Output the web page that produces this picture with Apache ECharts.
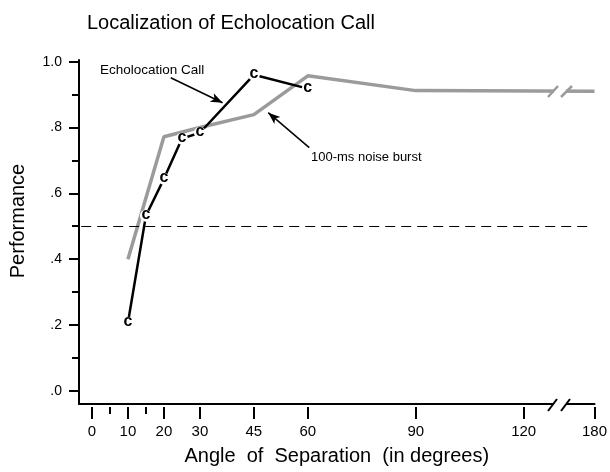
<!DOCTYPE html>
<html>
<head>
<meta charset="utf-8">
<script src="https://cdn.jsdelivr.net/npm/echarts@6/dist/echarts.min.js"></script>
<style>
html, body { margin: 0; padding: 0; background: #fff; }
#main { width: 610px; height: 472px; }
</style>
</head>
<body>
<div id="main"></div>
<script>
// angle of separation (degrees) and proportion correct
var echoAngles = [10, 15, 20, 25, 30, 45, 60];
var echoPerf = [0.207, 0.532, 0.644, 0.766, 0.784, 0.96, 0.918];
var noiseAngles = [10, 20, 30, 45, 60, 90, 180];
var noisePerf = [0.40, 0.772, 0.80, 0.839, 0.957, 0.912, 0.91];
var chanceLevel = 0.5;

var xMajor = [0, 10, 20, 30, 45, 60, 90, 120, 180];
var xMinor = [5, 15];
var yMajor = [0, 0.2, 0.4, 0.6, 0.8, 1.0];
var yMinor = [0.1, 0.3, 0.5, 0.7, 0.9];

// annotation arrows, [from, to] in axis units
var echoArrow = [[21.9, 0.951], [36.3, 0.875]];
var noiseArrow = [[60.4, 0.739], [49.0, 0.845]];

var FONT = "Liberation Sans";

// axis is broken after 120: 120..180 squeezed
function pos(deg) {
  return deg <= 120 ? deg : 120 + (deg - 120) * 0.328;
}
function unpos(v) {
  var best = xMajor[0];
  xMajor.forEach(function (d) {
    if (Math.abs(pos(d) - v) < Math.abs(pos(best) - v)) best = d;
  });
  return best;
}

var echoData = echoAngles.map(function (a, i) { return [pos(a), echoPerf[i]]; });
var noiseData = noiseAngles.map(function (a, i) { return [pos(a), noisePerf[i]]; });

var xMin = -3.6, xMax = pos(180);
var yMin = -0.04, yMax = 1.005;

var chart = echarts.init(document.getElementById("main"));

var option = {
  animation: false,
  backgroundColor: "#fff",
  textStyle: { fontFamily: FONT },
  title: {
    text: "Localization of Echolocation Call",
    left: 82,
    top: 8,
    textStyle: { fontFamily: FONT, fontSize: 20, fontWeight: "normal", color: "#000" }
  },
  grid: { left: 79, right: 14, top: 60, bottom: 68 },
  xAxis: [
    {
      type: "value", min: xMin, max: xMax, position: "bottom",
      axisLine: { show: true, onZero: false, lineStyle: { color: "#000", width: 2 } },
      axisTick: { show: false },
      axisLabel: { show: false },
      splitLine: { show: false },
      name: "Angle  of  Separation  (in degrees)",
      nameLocation: "middle",
      nameGap: 42,
      nameTextStyle: { fontFamily: FONT, fontSize: 20, color: "#000" }
    },
    {
      type: "value", min: xMin, max: xMax, position: "bottom", offset: 3,
      axisLine: { show: false, onZero: false },
      axisTick: {
        show: true, length: 12, customValues: xMajor.map(pos),
        lineStyle: { color: "#000", width: 2 }
      },
      axisLabel: {
        show: true, customValues: xMajor.map(pos), margin: 17,
        fontFamily: FONT, fontSize: 15, color: "#000",
        formatter: function (v) { return String(unpos(v)); }
      },
      splitLine: { show: false }
    },
    {
      type: "value", min: xMin, max: xMax, position: "bottom", offset: 3,
      axisLine: { show: false, onZero: false },
      axisTick: {
        show: true, length: 7, customValues: xMinor,
        lineStyle: { color: "#000", width: 2 }
      },
      axisLabel: { show: false },
      splitLine: { show: false }
    }
  ],
  yAxis: [
    {
      type: "value", min: yMin, max: yMax, position: "left",
      axisLine: { show: true, onZero: false, lineStyle: { color: "#000", width: 2 } },
      axisTick: {
        show: true, length: 10, customValues: yMajor,
        lineStyle: { color: "#000", width: 2 }
      },
      axisLabel: {
        show: true, customValues: yMajor, margin: 17,
        fontFamily: FONT, fontSize: 14, color: "#000",
        formatter: function (v) { return v >= 0.99 ? "1.0" : "." + Math.round(v * 10); }
      },
      splitLine: { show: false },
      name: "Performance",
      nameLocation: "middle",
      nameRotate: 90,
      nameGap: 51,
      nameTextStyle: { fontFamily: FONT, fontSize: 20, color: "#000", padding: [0, 0, 0, 22] }
    },
    {
      type: "value", min: yMin, max: yMax, position: "left",
      axisLine: { show: false, onZero: false },
      axisTick: {
        show: true, length: 7, customValues: yMinor,
        lineStyle: { color: "#000", width: 2 }
      },
      axisLabel: { show: false },
      splitLine: { show: false }
    }
  ],
  series: [
    {
      name: "100-ms noise burst",
      type: "line",
      data: noiseData,
      symbol: "none",
      z: 2,
      lineStyle: { color: "#9b9b9b", width: 3.5 },
      markLine: {
        silent: true,
        symbol: "none",
        label: { show: false },
        lineStyle: { color: "#000", width: 1, type: [10, 6] },
        data: [[{ coord: [-3, chanceLevel] }, { coord: [138, chanceLevel] }]]
      }
    },
    {
      name: "Echolocation Call",
      type: "line",
      data: echoData,
      z: 3,
      symbol: "circle",
      symbolSize: 12,
      itemStyle: { color: "#fff", borderWidth: 0 },
      lineStyle: { color: "#000", width: 2.5 },
      label: {
        show: true, position: "inside", formatter: "c", offset: [0, -1],
        fontFamily: FONT, fontSize: 16, fontWeight: "bold", color: "#000"
      },
      markLine: {
        silent: true,
        symbol: ["none", "arrow"],
        symbolSize: [7, 12],
        label: { show: false },
        lineStyle: { color: "#000", width: 1.5, type: "solid" },
        data: [
          [{ coord: echoArrow[0] }, { coord: echoArrow[1] }],
          [{ coord: noiseArrow[0] }, { coord: noiseArrow[1] }]
        ]
      }
    }
  ],
  graphic: [
    { type: "text", x: 100, y: 70, z: 100,
      style: { text: "Echolocation Call", fontFamily: FONT, fontSize: 13.5, fill: "#000", verticalAlign: "middle" } },
    { type: "text", x: 311, y: 157, z: 100,
      style: { text: "100-ms noise burst", fontFamily: FONT, fontSize: 13, fill: "#000", verticalAlign: "middle" } },
    // axis break
    { type: "rect", z: 100, shape: { x: 554, y: 399, width: 12, height: 9 }, style: { fill: "#fff" } },
    { type: "rect", z: 100, shape: { x: 554, y: 84, width: 12, height: 14 }, style: { fill: "#fff" } },
    { type: "line", z: 101, shape: { x1: 548, y1: 411, x2: 557, y2: 399 }, style: { stroke: "#000", lineWidth: 2 } },
    { type: "line", z: 101, shape: { x1: 561, y1: 411, x2: 570, y2: 399 }, style: { stroke: "#000", lineWidth: 2 } },
    { type: "line", z: 101, shape: { x1: 548, y1: 97, x2: 558, y2: 86 }, style: { stroke: "#9b9b9b", lineWidth: 2.5 } },
    { type: "line", z: 101, shape: { x1: 561, y1: 97, x2: 572, y2: 86 }, style: { stroke: "#9b9b9b", lineWidth: 2.5 } }
  ]
};

chart.setOption(option);
</script>
</body>
</html>
